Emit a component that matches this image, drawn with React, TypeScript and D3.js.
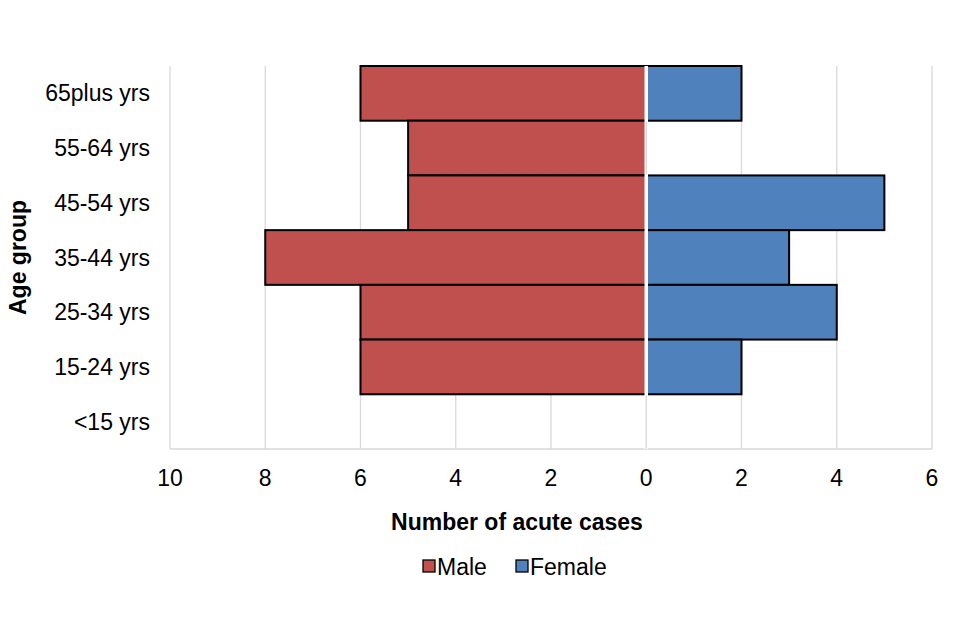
import React from "react";
import * as d3 from "d3";

const ageGroups = ["65plus yrs", "55-64 yrs", "45-54 yrs", "35-44 yrs", "25-34 yrs", "15-24 yrs", "<15 yrs"];
const maleCases = [6, 5, 5, 8, 6, 6, 0];
const femaleCases = [2, 0, 5, 3, 4, 2, 0];
const xTicks = [-10, -8, -6, -4, -2, 0, 2, 4, 6];

const MALE = "#C0504D";
const FEMALE = "#4F81BD";
const FONT = "'Liberation Sans', Arial, sans-serif";

const App: React.FC = () => {
  const width = 960;
  const height = 640;
  const margin = { top: 66, right: 28, bottom: 191, left: 170 };
  const plotW = width - margin.left - margin.right;
  const plotH = height - margin.top - margin.bottom;

  const x = d3.scaleLinear().domain([-10, 6]).range([0, plotW]);
  const y = d3.scaleBand().domain(ageGroups).range([0, plotH]).padding(0);

  return (
    <svg width={width} height={height} style={{ display: "block", position: "absolute", left: 0, top: 0 }} fontFamily={FONT}>
      <rect width={width} height={height} fill="#fff" />
      <g transform={`translate(${margin.left},${margin.top})`}>
        {/* gridlines */}
        {xTicks.map((t) => (
          <line key={"g" + t} x1={x(t)} x2={x(t)} y1={0} y2={plotH} stroke="#d9d9d9" strokeWidth={1.3} />
        ))}
        <line x1={0} x2={plotW} y1={plotH} y2={plotH} stroke="#d9d9d9" strokeWidth={1.3} />

        {/* bars */}
        {ageGroups.map((g, i) =>
          maleCases[i] > 0 ? (
            <rect
              key={"m" + g}
              x={x(-maleCases[i])}
              y={y(g)}
              width={x(0) - x(-maleCases[i])}
              height={y.bandwidth()}
              fill={MALE}
              stroke="#000"
              strokeWidth={2}
            />
          ) : null
        )}
        {ageGroups.map((g, i) =>
          femaleCases[i] > 0 ? (
            <rect
              key={"f" + g}
              x={x(0)}
              y={y(g)}
              width={x(femaleCases[i]) - x(0)}
              height={y.bandwidth()}
              fill={FEMALE}
              stroke="#000"
              strokeWidth={2}
            />
          ) : null
        )}
        {/* zero axis */}
        <line x1={x(0)} x2={x(0)} y1={0} y2={plotH} stroke="#fff" strokeWidth={3.5} />
        <line x1={x(0)} x2={x(0)} y1={y("55-64 yrs")! + 1} y2={y("45-54 yrs")! - 1} stroke="#d9d9d9" strokeWidth={1.3} />
        <line x1={x(0)} x2={x(0)} y1={y("<15 yrs")! + 1} y2={plotH} stroke="#d9d9d9" strokeWidth={1.3} />

        {/* x tick labels */}
        {xTicks.map((t) => (
          <text key={"t" + t} x={x(t)} y={plotH + 37} textAnchor="middle" fontSize={23} fill="#000">
            {Math.abs(t)}
          </text>
        ))}
        {/* y labels */}
        {ageGroups.map((g) => (
          <text
            key={"y" + g}
            x={-20}
            y={y(g)! + y.bandwidth() / 2}
            dy="0.35em"
            textAnchor="end"
            fontSize={23}
            fill="#000"
          >
            {g}
          </text>
        ))}
      </g>

      <text x={517} y={530} textAnchor="middle" fontSize={23} fontWeight="bold" fill="#000">
        Number of acute cases
      </text>
      <text
        transform={`translate(26,${margin.top + plotH / 2}) rotate(-90)`}
        textAnchor="middle"
        fontSize={23}
        fontWeight="bold"
        fill="#000"
      >
        Age group
      </text>

      {/* legend */}
      <rect x={423} y={560} width={12} height={12} fill={MALE} stroke="#000" strokeWidth={1.3} />
      <text x={437} y={575} fontSize={23} fill="#000">Male</text>
      <rect x={516} y={560} width={12} height={12} fill={FEMALE} stroke="#000" strokeWidth={1.3} />
      <text x={530} y={575} fontSize={23} fill="#000">Female</text>
    </svg>
  );
};

export default App;
